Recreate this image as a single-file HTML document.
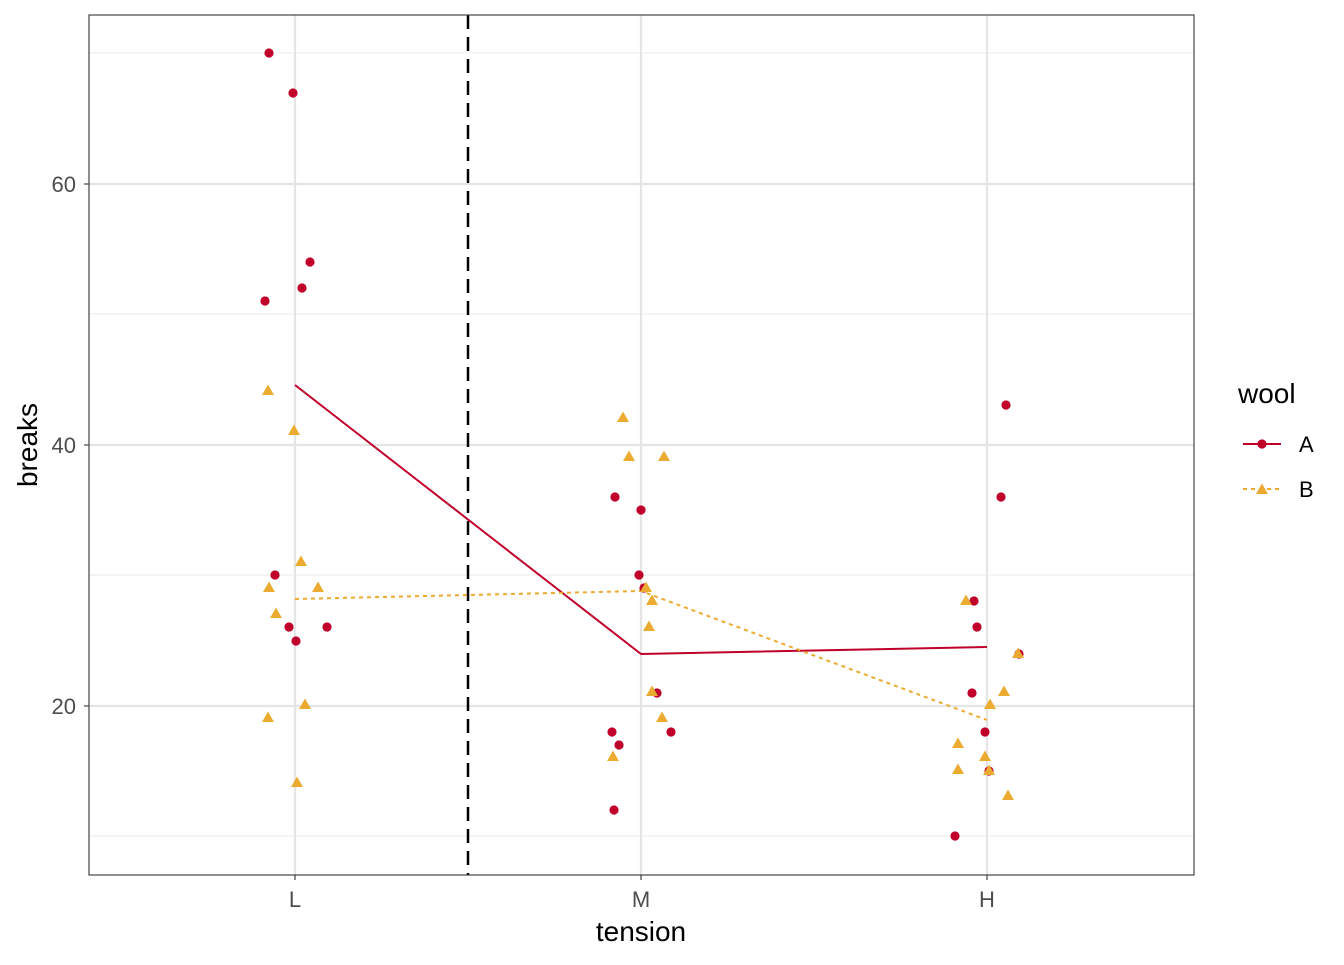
<!DOCTYPE html>
<html><head><meta charset="utf-8"><style>
body{margin:0;background:#fff}
svg text{font-family:"Liberation Sans",Arial,sans-serif}
</style></head><body>
<svg width="1344" height="960" viewBox="0 0 1344 960" xmlns="http://www.w3.org/2000/svg">
<defs>
<clipPath id="p"><rect x="89" y="15" width="1105" height="860"/></clipPath>
<g id="c"><circle r="4.6" fill="#c0002a"/></g>
<g id="t"><polygon points="0,-5.5 6,5 -6,5" fill="#ebab30"/></g>
</defs>
<rect x="89" y="15" width="1105" height="860" fill="#fff"/>
<g stroke="#ebebeb" stroke-width="1.1">
<line x1="89" x2="1194" y1="53" y2="53"/><line x1="89" x2="1194" y1="314" y2="314"/>
<line x1="89" x2="1194" y1="575" y2="575"/><line x1="89" x2="1194" y1="836" y2="836"/>
</g>
<g stroke="#e5e5e5" stroke-width="2.2">
<line x1="89" x2="1194" y1="184" y2="184"/><line x1="89" x2="1194" y1="445" y2="445"/>
<line x1="89" x2="1194" y1="706" y2="706"/>
<line y1="15" y2="875" x1="295" x2="295"/><line y1="15" y2="875" x1="641" x2="641"/>
<line y1="15" y2="875" x1="987" x2="987"/>
</g>
<g clip-path="url(#p)">
<line x1="468" x2="468" y1="15" y2="875" stroke="#000" stroke-width="2.5" stroke-dasharray="14,8"/>
<polyline points="295,385 641,654 987,647" fill="none" stroke="#c0002a" stroke-width="2"/>
<polyline points="295,599 641,591 987,720" fill="none" stroke="#ebab30" stroke-width="2" stroke-dasharray="4,4"/>
<g>
<use href="#c" x="269" y="53"/><use href="#c" x="293" y="93"/><use href="#c" x="310" y="262"/><use href="#c" x="302" y="288"/><use href="#c" x="265" y="301"/><use href="#c" x="275" y="575"/><use href="#c" x="289" y="627"/><use href="#c" x="296" y="641"/><use href="#c" x="327" y="627"/>
<use href="#c" x="615" y="497"/><use href="#c" x="641" y="510"/><use href="#c" x="639" y="575"/><use href="#c" x="644" y="588"/><use href="#c" x="657" y="693"/><use href="#c" x="612" y="732"/><use href="#c" x="619" y="745"/><use href="#c" x="671" y="732"/><use href="#c" x="614" y="810"/>
<use href="#c" x="1006" y="405"/><use href="#c" x="1001" y="497"/><use href="#c" x="974" y="601"/><use href="#c" x="977" y="627"/><use href="#c" x="972" y="693"/><use href="#c" x="985" y="732"/><use href="#c" x="989" y="771"/><use href="#c" x="1019" y="654"/><use href="#c" x="955" y="836"/>
</g>
<g>
<use href="#t" x="268" y="390"/><use href="#t" x="294" y="430"/><use href="#t" x="301" y="561"/><use href="#t" x="318" y="587"/><use href="#t" x="269" y="587"/><use href="#t" x="276" y="613"/><use href="#t" x="305" y="704"/><use href="#t" x="268" y="717"/><use href="#t" x="297" y="782"/>
<use href="#t" x="623" y="417"/><use href="#t" x="629" y="456"/><use href="#t" x="664" y="456"/><use href="#t" x="646" y="587"/><use href="#t" x="652" y="600"/><use href="#t" x="649" y="626"/><use href="#t" x="652" y="691"/><use href="#t" x="662" y="717"/><use href="#t" x="613" y="756"/>
<use href="#t" x="966" y="600"/><use href="#t" x="1018" y="653"/><use href="#t" x="1004" y="691"/><use href="#t" x="990" y="704"/><use href="#t" x="958" y="743"/><use href="#t" x="985" y="756"/><use href="#t" x="958" y="769"/><use href="#t" x="989" y="770"/><use href="#t" x="1008" y="795"/>
</g>
</g>
<rect x="89" y="15" width="1105" height="860" fill="none" stroke="#333" stroke-width="1.1"/>
<g stroke="#333" stroke-width="1.1">
<line x1="84" x2="89" y1="184" y2="184"/><line x1="84" x2="89" y1="445" y2="445"/><line x1="84" x2="89" y1="706" y2="706"/>
<line y1="875" y2="880" x1="295" x2="295"/><line y1="875" y2="880" x1="641" x2="641"/><line y1="875" y2="880" x1="987" x2="987"/>
</g>
<g font-size="22" fill="#4d4d4d">
<text x="76" y="192" text-anchor="end">60</text><text x="76" y="453" text-anchor="end">40</text><text x="76" y="714" text-anchor="end">20</text>
<text x="295" y="907" text-anchor="middle">L</text><text x="641" y="907" text-anchor="middle">M</text><text x="987" y="907" text-anchor="middle">H</text>
</g>
<text x="641" y="941" font-size="28" text-anchor="middle" fill="#000">tension</text>
<text transform="translate(37,445) rotate(-90)" font-size="28" text-anchor="middle" fill="#000">breaks</text>
<text x="1238" y="403" font-size="28" fill="#000">wool</text>
<line x1="1243" x2="1281" y1="444" y2="444" stroke="#c0002a" stroke-width="2"/>
<use href="#c" x="1262" y="444"/>
<line x1="1243" x2="1281" y1="489" y2="489" stroke="#ebab30" stroke-width="2" stroke-dasharray="4,4"/>
<use href="#t" x="1262" y="489"/>
<text x="1299" y="452" font-size="22" fill="#000">A</text>
<text x="1299" y="497" font-size="22" fill="#000">B</text>
</svg>
</body></html>
